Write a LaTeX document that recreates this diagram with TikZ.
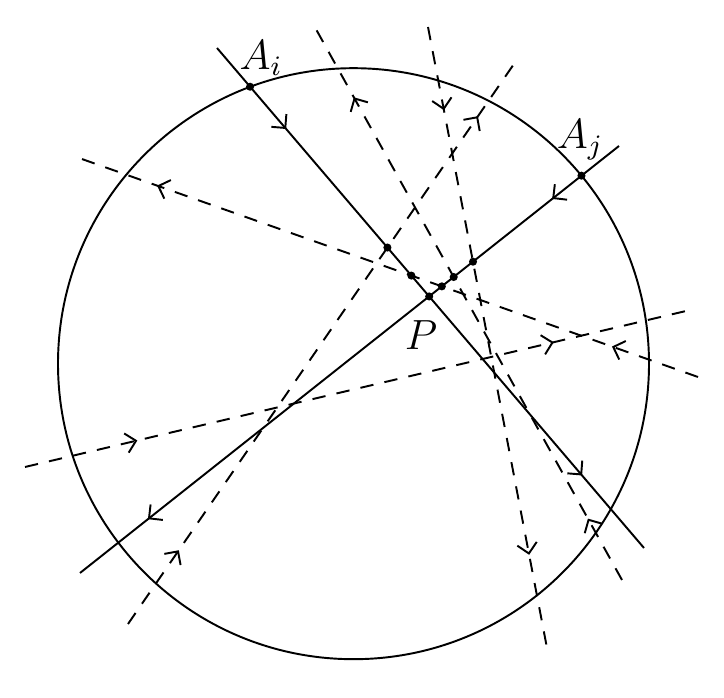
\documentclass[tikz,border=0pt]{standalone}
\usepackage{amsmath}
\usetikzlibrary{arrows.meta, decorations.markings, intersections}

\tikzset{
    chord/.style = {line width=0.55pt},
    ray/.style = {line width=0.55pt, dash pattern=on 3.8pt off 3.2pt},
    twoarr/.style 2 args = {postaction={decorate}, decoration={markings,
        mark=at position #1 with {\arrow{Straight Barb[length=2.8pt, width=5.6pt]}},
        mark=at position #2 with {\arrow{Straight Barb[length=2.8pt, width=5.6pt]}}}},
    dot/.style = {fill, circle, inner sep=0pt, minimum size=2.3pt}
}

\begin{document}
\begin{tikzpicture}[x=0.01cm, y=-0.01cm, font=\large]
    \useasboundingbox (0,0) rectangle (724,698);

    \coordinate (ctr) at (353.5,363.7);
    \draw[chord, name path=circ] (ctr) circle[radius=295.5];

    % the two chords
    \coordinate (ai1) at (217,48);
    \coordinate (ai2) at (644,548);
    \coordinate (aj1) at (619,146);
    \coordinate (aj2) at (80,573);
    \draw[chord, twoarr={0.162}{0.855}, name path=ai] (ai1) -- (ai2);
    \draw[chord, twoarr={0.124}{0.874}, name path=aj] (aj1) -- (aj2);

    % dashed lines
    \coordinate (d11) at (25,467);
    \coordinate (d12) at (686,311);
    \coordinate (d21) at (128,624);
    \coordinate (d22) at (516,61);
    \coordinate (d31) at (698,377);
    \coordinate (d32) at (79,158);
    \coordinate (d41) at (622,580);
    \coordinate (d42) at (312,22);
    \coordinate (d51) at (428,27);
    \coordinate (d52) at (547,648);
    \draw[ray, twoarr={0.17}{0.80}] (d11) -- (d12);
    \draw[ray, twoarr={0.131}{0.902}] (d21) -- (d22);
    \draw[ray, twoarr={0.139}{0.874}] (d31) -- (d32);
    \draw[ray, twoarr={0.11}{0.865}] (d41) -- (d42);
    \draw[ray, twoarr={0.134}{0.85}] (d51) -- (d52);

    \path[name intersections={of=circ and ai, sort by=ai, name=ci}];
    \path[name intersections={of=circ and aj, sort by=aj, name=cj}];
    \node[dot] (Ai) at (ci-1) {};
    \node[dot] (Aj) at (cj-1) {};
    \node[dot] (P) at (intersection of ai1--ai2 and aj1--aj2) {};
    \node[dot] (x2) at (intersection of ai1--ai2 and d21--d22) {};
    \node[dot] (x3) at (intersection of ai1--ai2 and d31--d32) {};
    \node[dot] (y3) at (intersection of aj1--aj2 and d31--d32) {};
    \node[dot] (y4) at (intersection of aj1--aj2 and d41--d42) {};
    \node[dot] (y5) at (intersection of aj1--aj2 and d51--d52) {};

    \node (lai) at (261,58) {$A_i$};
    \node (laj) at (580,140) {$A_j$};
    \node (lp) at (421,335) {$P$};
\end{tikzpicture}
\end{document}
